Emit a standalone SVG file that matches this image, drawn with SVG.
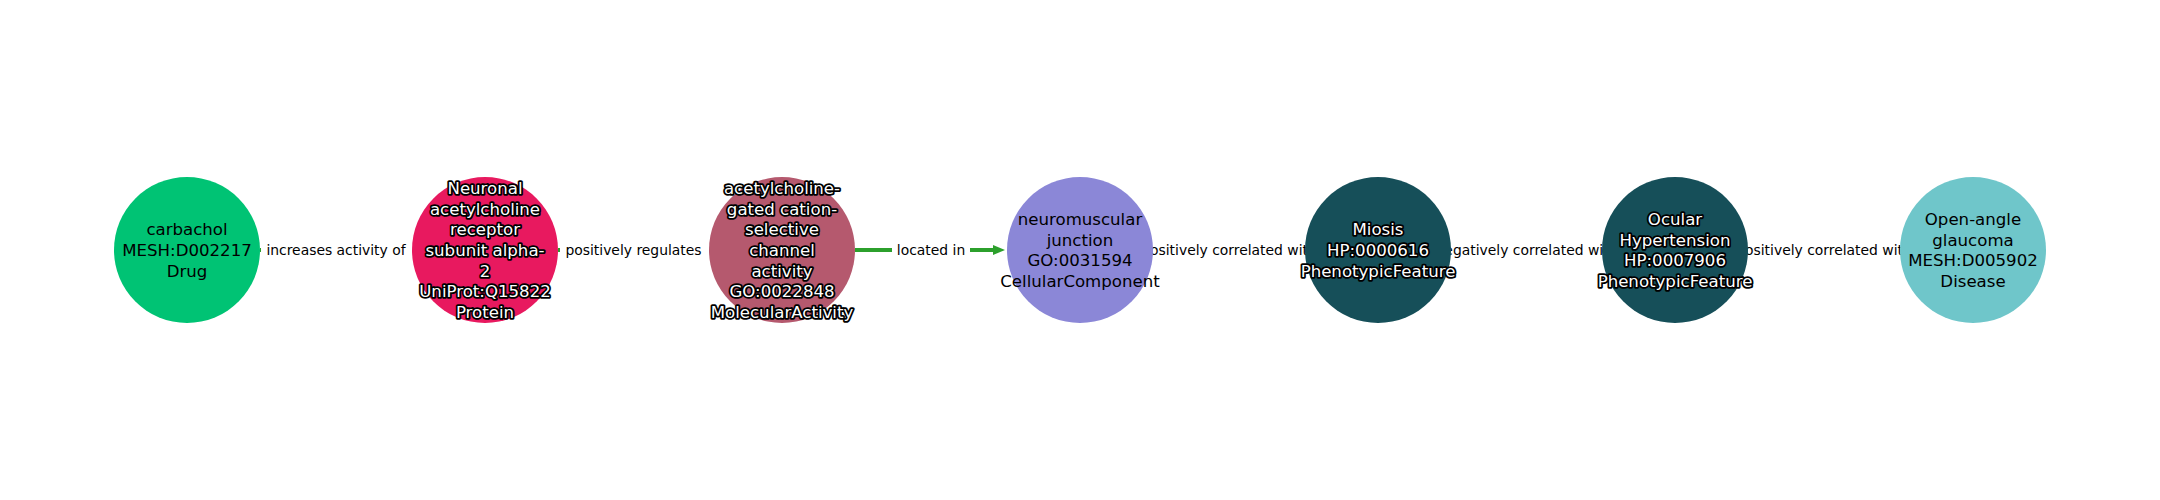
<svg xmlns="http://www.w3.org/2000/svg" width="2160" height="500" viewBox="0 0 2160 500">
<defs>
<style>
.nt{font-family:"DejaVu Sans","Liberation Sans",sans-serif;font-size:16.6px;text-anchor:middle;dominant-baseline:central}
.dk{fill:#000}
.lt{fill:#fff;stroke:#000;stroke-width:3.6;stroke-linejoin:round;paint-order:stroke}
.el{stroke:#2ca02c;stroke-width:4;fill:none}
.lb rect{fill:#fff}
.lb text{font-family:"DejaVu Sans","Liberation Sans",sans-serif;font-size:13.9px;text-anchor:middle;dominant-baseline:central;fill:#000}
</style>
<marker id="ah" markerUnits="userSpaceOnUse" markerWidth="13" markerHeight="11" refX="0" refY="5" orient="auto">
<path d="M0,0 L12,5 L0,10 z" fill="#2ca02c"/>
</marker>
</defs>
<rect width="2160" height="500" fill="#fff"/>
<g id="edges">
<line class="el" x1="260" y1="250" x2="398" y2="250" marker-end="url(#ah)"/>
<line class="el" x1="558" y1="250" x2="695" y2="250" marker-end="url(#ah)"/>
<line class="el" x1="855" y1="250" x2="993" y2="250" marker-end="url(#ah)"/>
<line class="el" x1="1153" y1="250" x2="1291" y2="250" marker-end="url(#ah)"/>
<line class="el" x1="1451" y1="250" x2="1588" y2="250" marker-end="url(#ah)"/>
<line class="el" x1="1748" y1="250" x2="1886" y2="250" marker-end="url(#ah)"/>
<g class="lb">
<rect x="261" y="239" width="150" height="22" rx="3"/><text x="336" y="250">increases activity of</text>
<rect x="560" y="239" width="147" height="22" rx="3"/><text x="633.5" y="250">positively regulates</text>
<rect x="892" y="239" width="78" height="22" rx="3"/><text x="931" y="250">located in</text>
<rect x="1135.5" y="239" width="187" height="22" rx="3"/><text x="1229" y="250">positively correlated with</text>
<rect x="1429.5" y="239" width="194" height="22" rx="3"/><text x="1526.5" y="250">negatively correlated with</text>
<rect x="1730.5" y="239" width="187" height="22" rx="3"/><text x="1824" y="250">positively correlated with</text>
</g>
</g>
<g id="n1"><circle cx="187" cy="250" r="73" fill="#00c374"/>
<text class="nt dk" x="187"><tspan x="187" y="229.3">carbachol</tspan><tspan x="187" y="250">MESH:D002217</tspan><tspan x="187" y="270.7">Drug</tspan></text></g>
<g id="n2"><circle cx="485" cy="250" r="73" fill="#e8195f"/>
<text class="nt lt"><tspan x="485" y="187.9">Neuronal</tspan><tspan x="485" y="208.6">acetylcholine</tspan><tspan x="485" y="229.3">receptor</tspan><tspan x="485" y="250">subunit alpha-</tspan><tspan x="485" y="270.7">2</tspan><tspan x="485" y="291.4">UniProt:Q15822</tspan><tspan x="485" y="312.1">Protein</tspan></text></g>
<g id="n3"><circle cx="782" cy="250" r="73" fill="#b5596e"/>
<text class="nt lt"><tspan x="782" y="187.9">acetylcholine-</tspan><tspan x="782" y="208.6">gated cation-</tspan><tspan x="782" y="229.3">selective</tspan><tspan x="782" y="250">channel</tspan><tspan x="782" y="270.7">activity</tspan><tspan x="782" y="291.4">GO:0022848</tspan><tspan x="782" y="312.1">MolecularActivity</tspan></text></g>
<g id="n4"><circle cx="1080" cy="250" r="73" fill="#8b87d7"/>
<text class="nt dk"><tspan x="1080" y="219">neuromuscular</tspan><tspan x="1080" y="239.7">junction</tspan><tspan x="1080" y="260.4">GO:0031594</tspan><tspan x="1080" y="281.1">CellularComponent</tspan></text></g>
<g id="n5"><circle cx="1378" cy="250" r="73" fill="#164f59"/>
<text class="nt lt"><tspan x="1378" y="229.3">Miosis</tspan><tspan x="1378" y="250">HP:0000616</tspan><tspan x="1378" y="270.7">PhenotypicFeature</tspan></text></g>
<g id="n6"><circle cx="1675" cy="250" r="73" fill="#164f59"/>
<text class="nt lt"><tspan x="1675" y="219">Ocular</tspan><tspan x="1675" y="239.7">Hypertension</tspan><tspan x="1675" y="260.4">HP:0007906</tspan><tspan x="1675" y="281.1">PhenotypicFeature</tspan></text></g>
<g id="n7"><circle cx="1973" cy="250" r="73" fill="#6fc6ca"/>
<text class="nt dk"><tspan x="1973" y="219">Open-angle</tspan><tspan x="1973" y="239.7">glaucoma</tspan><tspan x="1973" y="260.4">MESH:D005902</tspan><tspan x="1973" y="281.1">Disease</tspan></text></g>
</svg>
